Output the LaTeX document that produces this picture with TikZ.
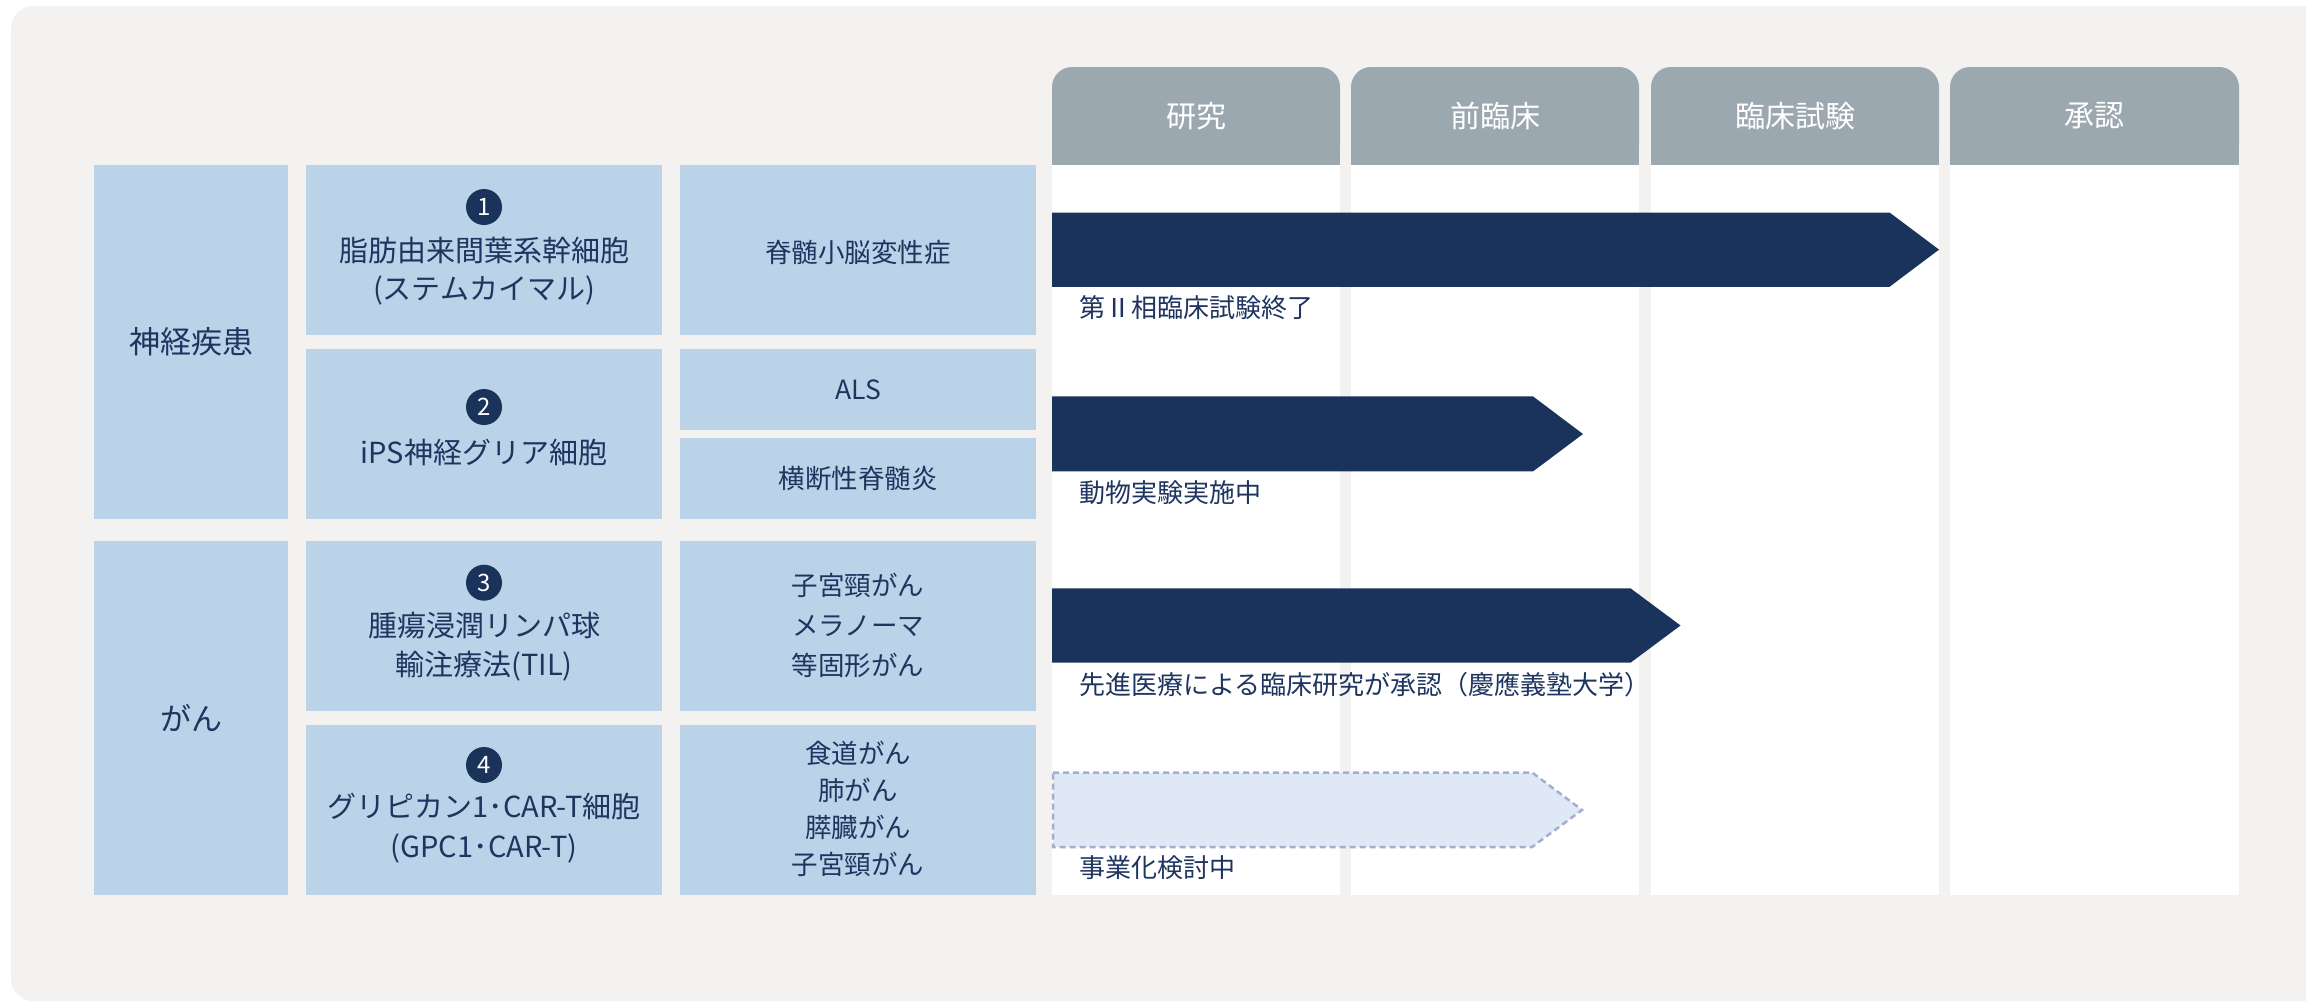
\documentclass[tikz,border=0pt]{standalone}
\usepackage{fontspec}
\setmainfont{Noto Sans CJK JP}
\definecolor{bgc}{HTML}{F3F2F0}
\definecolor{cellc}{HTML}{BBD3E8}
\definecolor{navy}{HTML}{1A335B}
\definecolor{hdrc}{HTML}{9CA8B0}
\definecolor{txtc}{HTML}{1E3560}
\definecolor{pale}{HTML}{DEE9F5}
\definecolor{dashc}{HTML}{A6AECF}
\newcommand{\myfs}[2]{\fontsize{#1}{#2}\selectfont}
\begin{document}
\begin{tikzpicture}[x=1pt,y=-1pt,
  cell/.style={fill=cellc, inner sep=0pt, anchor=north west},
  cattext/.style={text=txtc, font=\myfs{31}{31}, inner sep=0pt},
  btext/.style={text=txtc, font=\myfs{29}{39.5}, align=center, inner sep=0pt},
  ctext/.style={text=txtc, font=\myfs{26.5}{40}, align=center, inner sep=0pt},
  numc/.style={circle, fill=navy, text=white, minimum size=36pt, inner sep=0pt, font=\myfs{24}{24}},
  hdrtext/.style={text=white, font=\myfs{30}{30}, inner sep=0pt},
  lbl/.style={text=txtc, font=\myfs{26}{26}, inner sep=0pt, anchor=west},
  darrow/.style={fill=navy},
  parrow/.style={fill=pale, draw=dashc, line width=2.5pt, dash pattern=on 6pt off 4pt},
]
\useasboundingbox (0,0) rectangle (2306,1001);
% background
\fill[bgc, rounded corners=22pt] (11,6) rectangle (2330,1001);
\fill[bgc] (2200,900) rectangle (2306,1001);

% stage headers and columns
\foreach \xa/\xb/\t/\n in {1052/1340/研究/h1, 1351/1639/前臨床/h2, 1651/1939/臨床試験/h3, 1950/2239/承認/h4}{
  \fill[hdrc, rounded corners=20pt] (\xa,67) rectangle (\xb,165);
  \fill[hdrc] (\xa,120) rectangle (\xb,165);
  \fill[white] (\xa,165) rectangle (\xb,894.7);
  \node[hdrtext] (\n) at ({(\xa+\xb)/2},116) {\t};
}

% category column
\node[cell, minimum width=194pt, minimum height=353.6pt] (a1) at (94,165) {};
\node[cattext] (a1t) at (a1.center) {神経疾患};
\node[cell, minimum width=194pt, minimum height=353.7pt] (a2) at (94,541) {};
\node[cattext] (a2t) at (a2.center) {がん};

% therapy column
\node[cell, minimum width=356pt, minimum height=169.6pt] (b1) at (306,165) {};
\node[cell, minimum width=356pt, minimum height=169.6pt] (b2) at (306,349) {};
\node[cell, minimum width=356pt, minimum height=169.7pt] (b3) at (306,541) {};
\node[cell, minimum width=356pt, minimum height=169.7pt] (b4) at (306,725) {};

\node[numc] (n1) at (484,207) {1};
\node[btext, font=\myfs{29}{38}] (b1t) at (484,271) {脂肪由来間葉系幹細胞\\(ステムカイマル)};
\node[numc] (n2) at (484,407) {2};
\node[btext] (b2t) at (484,452) {iPS神経グリア細胞};
\node[numc] (n3) at (484,582.7) {3};
\node[btext] (b3t) at (484,646.7) {腫瘍浸潤リンパ球\\輸注療法(TIL)};
\node[numc] (n4) at (484,765) {4};
\node[btext] (b4t) at (484,828.3) {グリピカン1･CAR-T細胞\\(GPC1･CAR-T)};

% disease column
\node[cell, minimum width=356pt, minimum height=169.6pt] (c1) at (680,165) {};
\node[cell, minimum width=356pt, minimum height=80.6pt] (c2) at (680,349) {};
\node[cell, minimum width=356pt, minimum height=80.6pt] (c3) at (680,438) {};
\node[cell, minimum width=356pt, minimum height=169.7pt] (c4) at (680,541) {};
\node[cell, minimum width=356pt, minimum height=169.7pt] (c5) at (680,725) {};

\node[ctext] (c1t) at (858,252) {脊髄小脳変性症};
\node[ctext] (c2t) at (c2.center) {ALS};
\node[ctext] (c3t) at (c3.center) {横断性脊髄炎};
\node[ctext] (c4t) at (858,625) {子宮頸がん\\メラノーマ\\等固形がん};
\node[ctext, font=\myfs{26.5}{37.2}] (c5t) at (858,809) {食道がん\\肺がん\\膵臓がん\\子宮頸がん};

% progress arrows
\fill[darrow] (1052,212.5) -- (1889.5,212.5) -- (1939,249.6) -- (1889.5,286.8) -- (1052,286.8) -- cycle;
\fill[darrow] (1052,396.4) -- (1533,396.4) -- (1583,434) -- (1533,471.4) -- (1052,471.4) -- cycle;
\fill[darrow] (1052,588.3) -- (1630.5,588.3) -- (1680.5,625.5) -- (1630.5,662.7) -- (1052,662.7) -- cycle;
\filldraw[parrow] (1053,772.5) -- (1532,772.5) -- (1582,810) -- (1532,847) -- (1053,847) -- cycle;

% status labels
\node[lbl] (l1) at (1079,308) {第Ⅱ相臨床試験終了};
\node[lbl] (l2) at (1079,493) {動物実験実施中};
\node[lbl] (l3) at (1079,685) {先進医療による臨床研究が承認（慶應義塾大学）};
\node[lbl] (l4) at (1079,868) {事業化検討中};
\end{tikzpicture}
\end{document}
